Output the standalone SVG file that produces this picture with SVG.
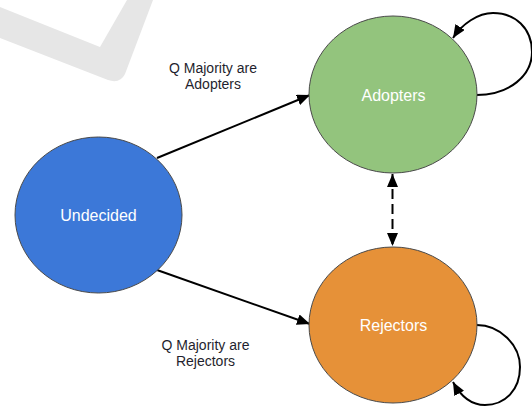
<svg xmlns="http://www.w3.org/2000/svg" width="532" height="406" viewBox="0 0 532 406">
<defs>
<style>
.node{stroke:#4a4a4a;stroke-width:1}
.ntext{font-family:"Liberation Sans",Arial,sans-serif;font-size:16px;fill:#ffffff;text-anchor:middle}
.ltext{font-family:"Liberation Sans",Arial,sans-serif;font-size:14px;fill:#1f1f2e;text-anchor:middle}
.edge{fill:none;stroke:#000;stroke-width:2}
.dash{stroke-dasharray:10 5}
</style>
<marker id="arr" markerUnits="userSpaceOnUse" markerWidth="14" markerHeight="11" refX="13" refY="5.5" orient="auto">
<path d="M0,0 L13,5.5 L0,11 Z" fill="#000"/>
</marker>
<marker id="arrS" markerUnits="userSpaceOnUse" markerWidth="14" markerHeight="11" refX="13" refY="5.5" orient="auto-start-reverse">
<path d="M0,0 L13,5.5 L0,11 Z" fill="#000"/>
</marker>
</defs>
<rect width="532" height="406" fill="#ffffff"/>
<path d="M0,7 L100,47 L127,0 L153,0 L125,74 Q120,84 108,80 L0,38 Z" fill="#e6e6e6"/>
<g id="connectors">
<path class="edge" d="M157,158 L310,95" marker-end="url(#arr)"/>
<path class="edge" d="M157,270 L310,324" marker-end="url(#arr)"/>
<path class="edge dash" d="M392.5,174 L392.5,246" marker-start="url(#arrS)" marker-end="url(#arrS)"/>
<path class="edge" d="M476.7,95 C510,95 532,75 532,52 C532,28 515,13 493,13 C478,13 462,24 453,38" marker-end="url(#arr)"/>
<path class="edge" d="M476.7,325 C500,325 520,345 520,367 C520,390 505,405 485,405 C470,405 460,395 453,382" marker-end="url(#arr)"/>
</g>
<g id="undecided">
<ellipse class="node" cx="98.5" cy="215" rx="83.5" ry="78" fill="#3c78d8"/>
<text class="ntext" x="98.5" y="221">Undecided</text>
</g>
<g id="adopters">
<ellipse class="node" cx="393" cy="94.5" rx="84" ry="78.5" fill="#93c47d"/>
<text class="ntext" x="393.5" y="101">Adopters</text>
</g>
<g id="rejectors">
<ellipse class="node" cx="393" cy="325" rx="84" ry="78" fill="#e69138"/>
<text class="ntext" x="393.5" y="331">Rejectors</text>
</g>
<g id="label-adopters">
<text class="ltext" x="213" y="72.5">Q Majority are</text>
<text class="ltext" x="213" y="89">Adopters</text>
</g>
<g id="label-rejectors">
<text class="ltext" x="205.5" y="350">Q Majority are</text>
<text class="ltext" x="205.5" y="366">Rejectors</text>
</g>
</svg>
